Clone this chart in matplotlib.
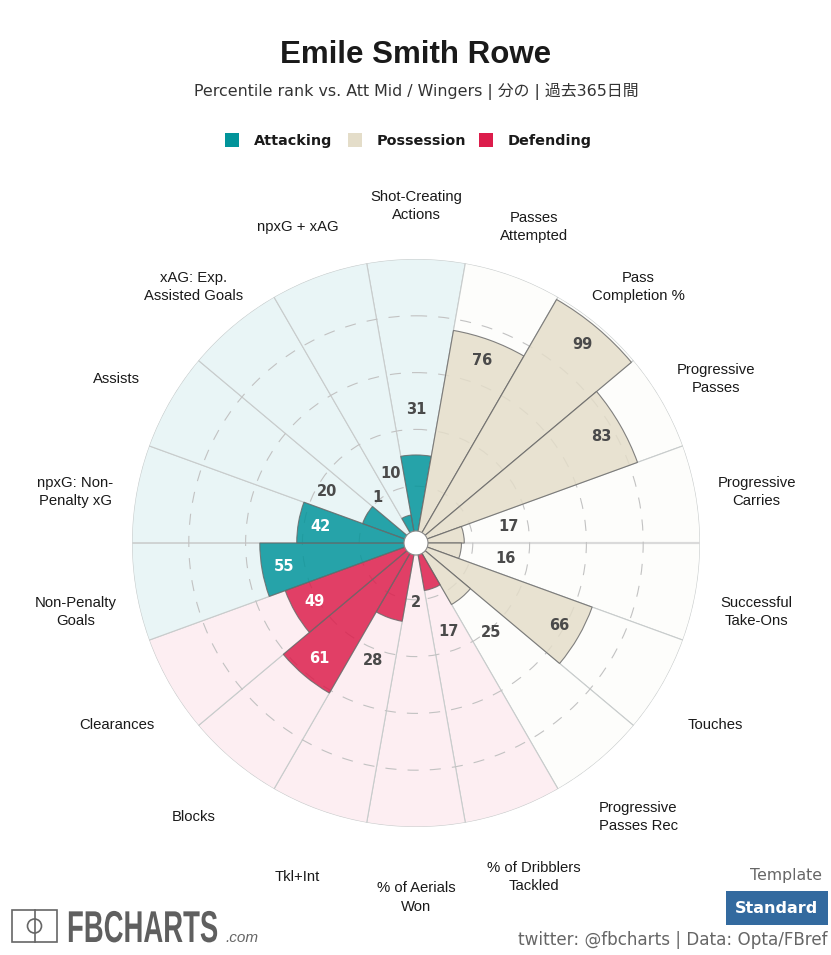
import numpy as np
import matplotlib
matplotlib.use('Agg')
import matplotlib.pyplot as plt
import matplotlib.patheffects as path_effects
from matplotlib.patches import Rectangle, Circle
from matplotlib.transforms import Affine2D

# datos del grafico
metricas = ['Shot-Creating\nActions', 'Passes\nAttempted', 'Pass\nCompletion %', 'Progressive\nPasses',
            'Progressive\nCarries', 'Successful\nTake-Ons', 'Touches', 'Progressive\nPasses Rec',
            '% of Dribblers\nTackled', '% of Aerials\nWon', 'Tkl+Int', 'Blocks', 'Clearances',
            'Non-Penalty\nGoals', 'npxG: Non-\nPenalty xG', 'Assists', 'xAG: Exp.\nAssisted Goals', 'npxG + xAG']
valores = [31, 76, 99, 83, 17, 16, 66, 25, 17, 2, 28, 61, 49, 55, 42, 20, 1, 10]
grupos = ['A', 'P', 'P', 'P', 'P', 'P', 'P', 'P', 'D', 'D', 'D', 'D', 'D', 'A', 'A', 'A', 'A', 'A']

leyenda = ['Attacking', 'Possession', 'Defending']
titulo = 'Emile Smith Rowe'
subtitulo = 'Percentile rank vs. Att Mid / Wingers | 分の | 過去365日間'

color_barra = {'A': '#01949A', 'P': '#E4DDC9', 'D': '#DC1D4B'}
color_fondo = {'A': '#E9F5F6', 'P': '#FDFDFB', 'D': '#FDEEF2'}
color_texto = {'A': 'white', 'P': '#4a4a4a', 'D': 'white'}

W, H = 831, 955
CX, CY, R = 416, 543, 284
CJK = ['DejaVu Sans', 'Noto Sans CJK JP']


# estira el texto en vertical desde la linea base (para el logo)
class EstirarY(path_effects.AbstractPathEffect):
    def __init__(self, factor):
        super().__init__()
        self.factor = factor

    def draw_path(self, renderer, gc, tpath, affine, rgbFace=None):
        y0 = affine.get_matrix()[1, 2]
        t = affine + Affine2D().translate(0, -y0).scale(1, self.factor).translate(0, y0)
        renderer.draw_path(gc, tpath, t, rgbFace)


fig = plt.figure(figsize=(W / 100, H / 100), dpi=100, facecolor='white')

# capa en pixeles para titulos, leyenda y pie
capa = fig.add_axes([0, 0, 1, 1])
capa.set_xlim(0, W)
capa.set_ylim(H, 0)
capa.axis('off')

# radar
ax = fig.add_axes([(CX - R) / W, (H - CY - R) / H, 2 * R / W, 2 * R / H], projection='polar')
ax.set_theta_zero_location('N')
ax.set_theta_direction(-1)
ax.patch.set_alpha(0)
ax.spines['polar'].set_visible(False)

n = len(valores)
angulos = np.deg2rad(np.arange(n) * 360 / n)
ancho = 2 * np.pi / n

ax.bar(angulos, [100] * n, width=ancho, color=[color_fondo[g] for g in grupos],
       edgecolor='#c8cccc', linewidth=0.8, zorder=1)
ax.axvline(np.pi / 2, color='#dadada', linewidth=1.6, zorder=1.5)
ax.axvline(3 * np.pi / 2, color='#d0d4d4', linewidth=1.4, zorder=1.5)
ax.bar(angulos, valores, width=ancho, color=[color_barra[g] for g in grupos],
       edgecolor='#6a6a6a', linewidth=0.8, alpha=0.84, zorder=3)

ax.set_ylim(0, 100)
ax.set_rticks([20, 40, 60, 80])
ax.set_yticklabels([])
ax.set_xticks([])
ax.set_axisbelow(False)
ax.yaxis.grid(True, color='#c2c2c2', linewidth=0.8, linestyle=(0, (10, 10)), zorder=2)
ax.xaxis.grid(False)

# etiquetas de valores
for a, v, g in zip(angulos, valores, grupos):
    if v >= 40:
        ax.text(a, v - 7.8, str(v), ha='center', va='center', fontsize=10.5, fontweight='bold',
                color=color_texto[g], zorder=5)
    else:
        ax.text(a, max(v + 16, 21), str(v), ha='center', va='center', fontsize=10.5, fontweight='bold',
                color='#4a4a4a', zorder=5)

# etiquetas de metricas
for a, m in zip(angulos, metricas):
    ax.annotate(m, xy=(a, 121.8), xytext=(0, -6.4), textcoords='offset points', ha='center', va='center',
                fontsize=10.7, family='Liberation Sans', color='#1a1a1a', linespacing=1.42,
                annotation_clip=False, zorder=5)

# agujero central
capa2 = fig.add_axes([0, 0, 1, 1])
capa2.set_xlim(0, W)
capa2.set_ylim(H, 0)
capa2.axis('off')
capa2.add_patch(Circle((CX, CY), 12, facecolor='white', edgecolor='#8a8a8a', linewidth=0.8))

# titulo
capa.text(416, 55, titulo, ha='center', va='center', fontsize=22.5, fontweight='bold',
          family='Liberation Sans', color='#1a1a1a')
capa.text(416, 91, subtitulo, ha='center', va='center', fontsize=11.4, family=CJK, color='#333333')

# leyenda
xs_cuadro = [225, 348, 479]
xs_texto = [254, 377, 508]
for x, xt, nombre, g in zip(xs_cuadro, xs_texto, leyenda, ['A', 'P', 'D']):
    capa.add_patch(Rectangle((x, 133), 14, 14, facecolor=color_barra[g], edgecolor='none'))
    capa.text(xt, 141, nombre, ha='left', va='center', fontsize=10.4, fontweight='bold', color='#1a1a1a')

# logo
capa.add_patch(Rectangle((12, 910), 45, 32, facecolor='none', edgecolor='#666666', linewidth=1.2))
capa.plot([34.5, 34.5], [910, 942], color='#666666', linewidth=1.2)
capa.add_patch(Circle((34.5, 926), 7, facecolor='none', edgecolor='#666666', linewidth=1.2))
capa.text(67, 942, 'FBCHARTS', ha='left', va='baseline', fontsize=19.8, fontweight='bold',
          family='Liberation Sans', color='#5f5f5f', path_effects=[EstirarY(1.62)])
capa.text(225, 942, '.com', ha='left', va='baseline', fontsize=11, style='italic',
          family='Liberation Sans', color='#666666')

# pie
capa.text(822, 875, 'Template', ha='right', va='center', fontsize=11.3, color='#666666')
capa.add_patch(Rectangle((726, 891), 102, 34, facecolor='#336A9F', edgecolor='none'))
capa.text(777, 908, 'Standard', ha='center', va='center', fontsize=11.5, fontweight='bold', color='white')
capa.text(827, 940, 'twitter: @fbcharts | Data: Opta/FBref', ha='right', va='center',
          fontsize=12.1, color='#666666')

fig.savefig('out.png', dpi=100)
